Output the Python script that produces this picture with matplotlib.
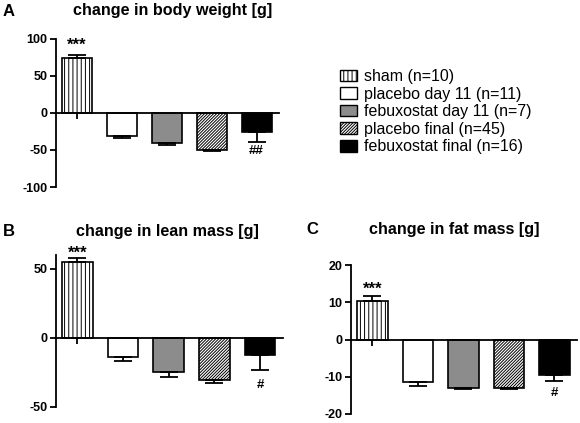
import matplotlib
matplotlib.use('Agg')
import matplotlib.pyplot as plt
from matplotlib.patches import Patch

plt.rcParams['font.family'] = ['Liberation Sans', 'DejaVu Sans']
plt.rcParams['hatch.linewidth'] = 0.7
plt.rcParams['axes.unicode_minus'] = False

# Daten
groups = ['sham (n=10)', 'placebo day 11 (n=11)', 'febuxostat day 11 (n=7)',
          'placebo final (n=45)', 'febuxostat final (n=16)']
colors = ['white', 'white', '#8c8c8c', 'white', 'black']
hatches = ['||||', '', '', '/' * 11, '']

body_mean = [74.7, -30.6, -40.0, -50.5, -26.0]
body_sem = [4.0, 2.8, 3.7, 1.3, 12.7]
lean_mean = [54.6, -14.0, -24.6, -30.9, -12.3]
lean_sem = [3.4, 2.9, 3.7, 2.1, 10.9]
fat_mean = [10.4, -11.5, -12.9, -13.1, -9.4]
fat_sem = [1.2, 0.9, 0.5, 0.3, 1.7]

sig_star = '***'
sig_hash = {'A': '##', 'B': '#', 'C': '#'}


def draw_panel(ax, means, sems, ylim, yticks, star_y, hash_y, hash_txt):
    x = range(len(means))
    ax.bar(x, means, width=0.67, color=colors, edgecolor='black',
           linewidth=1.2, hatch=hatches, zorder=2)
    # nur einseitige Fehlerbalken (weg von Null)
    lower = [0 if m >= 0 else s for m, s in zip(means, sems)]
    upper = [s if m >= 0 else 0 for m, s in zip(means, sems)]
    ax.errorbar(x, means, yerr=[lower, upper], fmt='none', ecolor='black',
                elinewidth=1.3, capsize=6.5, capthick=1.3, zorder=3)
    ax.set_xlim(-0.47, 4.5)
    ax.set_ylim(*ylim)
    ax.set_yticks(yticks)
    ax.set_xticks(list(x))
    ax.set_xticklabels([])
    ax.spines['top'].set_visible(False)
    ax.spines['right'].set_visible(False)
    ax.spines['bottom'].set_position(('data', 0))
    ax.spines['left'].set_linewidth(1.3)
    ax.spines['bottom'].set_linewidth(1.3)
    ax.tick_params(axis='y', direction='out', length=4, width=1.3,
                   labelsize=9, pad=2)
    ax.tick_params(axis='x', direction='out', length=4, width=1.3)
    for lab in ax.get_yticklabels():
        lab.set_fontweight('bold')
    ax.text(0, star_y, sig_star, ha='center', va='center', fontsize=12,
            fontweight='bold', clip_on=False)
    ax.text(4, hash_y, hash_txt, ha='center', va='center', fontsize=9.5,
            fontweight='bold', clip_on=False)


fig = plt.figure(figsize=(5.8, 4.23), dpi=100)

axA = fig.add_axes([0.0966, 0.5579, 0.3845, 0.350])
draw_panel(axA, body_mean, body_sem, (-100, 100), [-100, -50, 0, 50, 100],
           92, -52, sig_hash['A'])

axB = fig.add_axes([0.0966, 0.0385, 0.391, 0.3586])
draw_panel(axB, lean_mean, lean_sem, (-50, 60), [-50, 0, 50],
           61.5, -34, sig_hash['B'])

axC = fig.add_axes([0.605, 0.0213, 0.39, 0.352])
draw_panel(axC, fat_mean, fat_sem, (-20, 20), [-20, -10, 0, 10, 20],
           13.4, -14.4, sig_hash['C'])

# Titel und Panelbuchstaben
fig.text(0.298, 1 - 11 / 423, 'change in body weight [g]', ha='center',
         va='center', fontsize=11.6, fontweight='bold')
fig.text(0.288, 1 - 231 / 423, 'change in lean mass [g]', ha='center',
         va='center', fontsize=11.6, fontweight='bold')
fig.text(0.784, 1 - 229 / 423, 'change in fat mass [g]', ha='center',
         va='center', fontsize=11.6, fontweight='bold')
fig.text(0.005, 1 - 11 / 423, 'A', ha='left', va='center', fontsize=12,
         fontweight='bold')
fig.text(0.005, 1 - 231 / 423, 'B', ha='left', va='center', fontsize=12,
         fontweight='bold')
fig.text(312 / 580, 1 - 229 / 423, 'C', ha='center', va='center',
         fontsize=12, fontweight='bold')

# Legende
handles = [Patch(facecolor=c, edgecolor='black', hatch=h, linewidth=1.0)
           for c, h in zip(colors, hatches)]
fig.legend(handles, groups, loc='upper left',
           bbox_to_anchor=(340 / 580, 1 - 69 / 423), frameon=False,
           borderpad=0, borderaxespad=0, fontsize=11.5, handlelength=1.05,
           handleheight=0.75, handletextpad=0.45, labelspacing=0.16)

fig.savefig('out.png', dpi=100)
